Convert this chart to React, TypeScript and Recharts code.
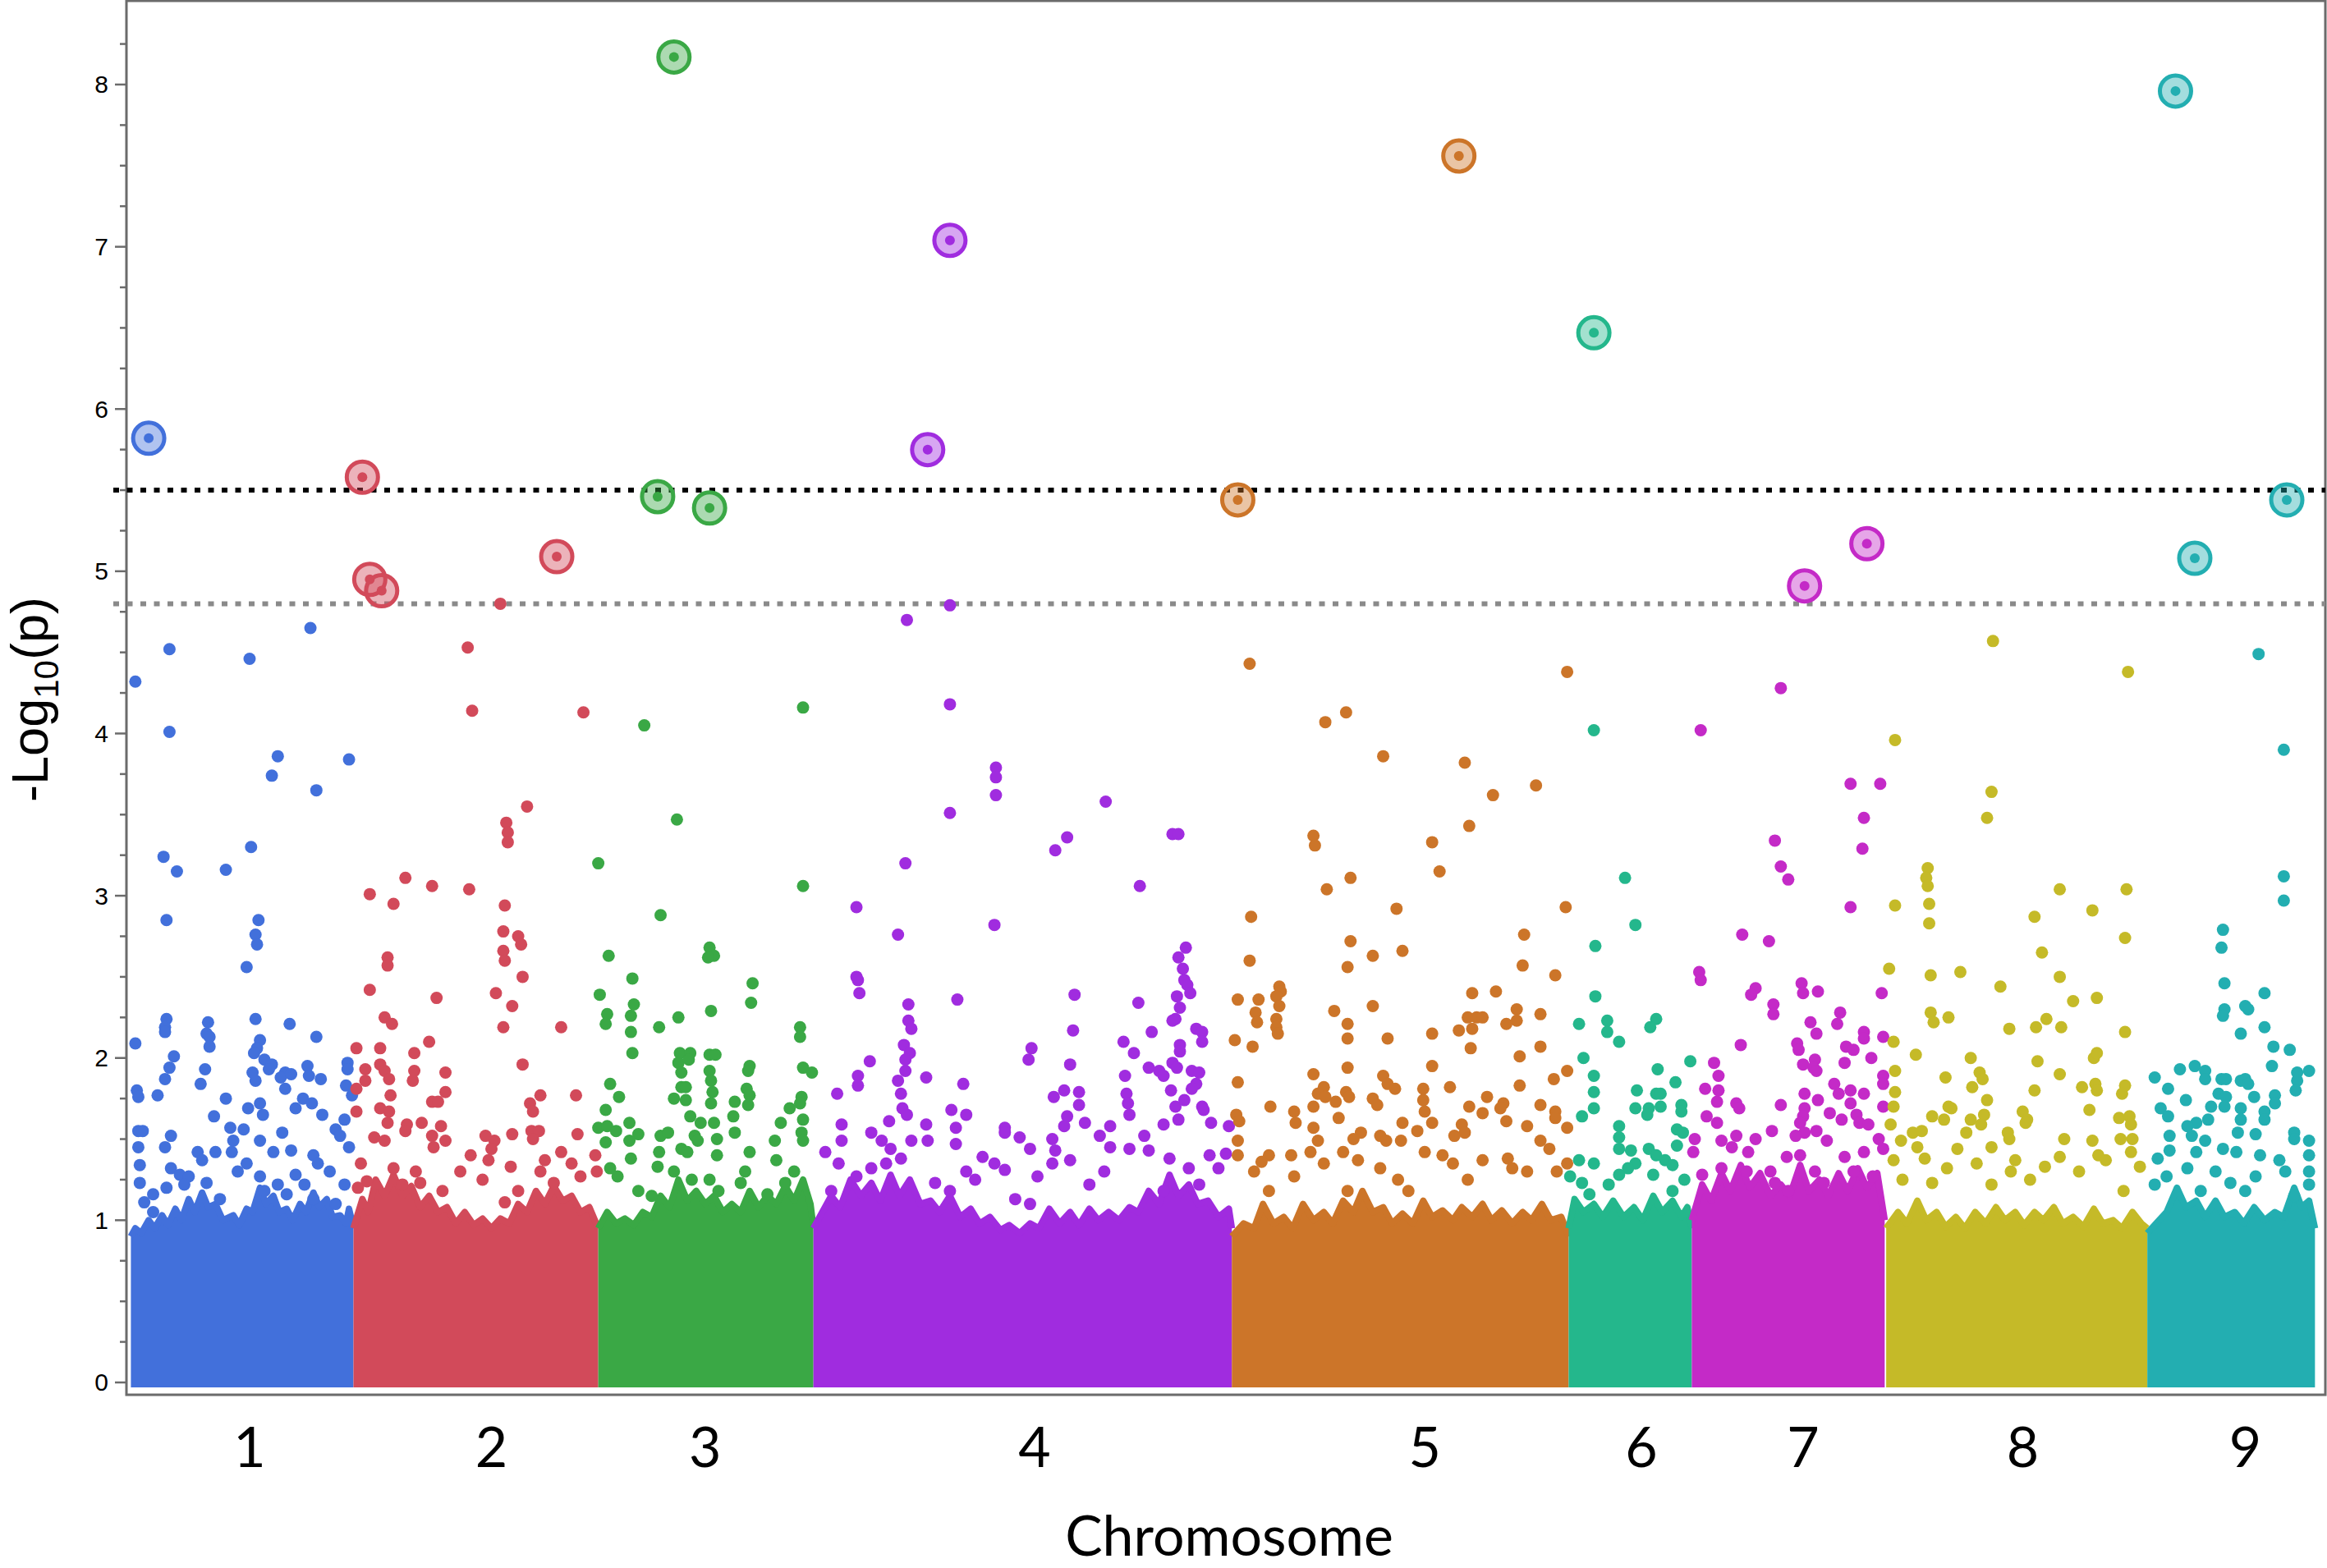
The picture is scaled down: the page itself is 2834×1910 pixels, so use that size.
import { ComposedChart, Area, Scatter, XAxis, YAxis, ReferenceLine, ReferenceArea, Label } from 'recharts';

// chromosome names, colours and where their labels sit on the genome axis
const chromosomes = ['1', '2', '3', '4', '5', '6', '7', '8', '9'];
const chromColors = ['#4270db', '#d24a5a', '#3aa845', '#a02cdf', '#cc7529', '#24b78c', '#c42ac7', '#c5ba28', '#23aeb1'];
const chromLabelPos = [83, 246, 390, 612, 875, 1021, 1130, 1278, 1428];

const yTicks = [0, 0.25, 0.5, 0.75, 1, 1.25, 1.5, 1.75, 2, 2.25, 2.5, 2.75, 3, 3.25, 3.5, 3.75, 4, 4.25, 4.5, 4.75, 5, 5.25, 5.5, 5.75, 6, 6.25, 6.5, 6.75, 7, 7.25, 7.5, 7.75, 8, 8.25];

const genomeWide = 5.5;
const suggestive = 4.8;

// upper edge of the dense band of SNPs, per chromosome [position, -log10 p]
const chr1Band = [[3, 0.9], [6, 0.95], [10, 0.92], [15, 1.0], [19, 0.95], [24, 1.03], [28, 0.97], [33, 1.07], [37, 1.0], [42, 1.13], [46, 1.05], [51, 1.17], [55, 1.08], [60, 1.1], [65, 1.0], [72, 1.03], [76, 0.97], [81, 1.07], [85, 1.05], [90, 1.2], [94, 1.1], [99, 1.15], [103, 1.05], [108, 1.07], [112, 1.0], [117, 1.1], [121, 1.05], [126, 1.17], [130, 1.08], [135, 1.13], [139, 1.02], [144, 1.03], [148, 0.98], [150, 1.07], [153, 0.95]];
const chr2Band = [[153, 0.95], [159, 1.13], [163, 1.05], [168, 1.25], [174, 1.15], [180, 1.28], [186, 1.15], [192, 1.21], [198, 1.08], [204, 1.15], [210, 1.05], [216, 1.08], [222, 0.98], [228, 1.05], [234, 0.97], [240, 1.01], [246, 0.95], [252, 1.01], [258, 0.98], [264, 1.1], [270, 1.05], [276, 1.18], [282, 1.1], [288, 1.21], [294, 1.12], [300, 1.15], [306, 1.05], [312, 1.08], [318, 0.95]];
const chr3Band = [[318, 0.95], [324, 1.05], [330, 0.98], [336, 1.01], [342, 0.97], [348, 1.05], [354, 1.02], [360, 1.15], [366, 1.08], [372, 1.25], [378, 1.12], [384, 1.18], [390, 1.1], [396, 1.15], [402, 1.05], [408, 1.1], [414, 1.05], [420, 1.18], [426, 1.08], [432, 1.15], [438, 1.1], [444, 1.21], [450, 1.12], [456, 1.25], [461, 1.1], [463, 0.95]];
const chr4Band = [[463, 0.95], [469, 1.05], [475, 1.15], [481, 1.08], [488, 1.25], [495, 1.15], [502, 1.23], [508, 1.12], [515, 1.28], [521, 1.15], [528, 1.25], [535, 1.1], [542, 1.12], [548, 1.05], [555, 1.15], [562, 1.02], [569, 1.07], [575, 0.98], [582, 1.02], [589, 0.94], [595, 0.97], [602, 0.92], [609, 0.98], [615, 0.95], [622, 1.07], [629, 0.98], [636, 1.05], [642, 0.97], [649, 1.07], [655, 1.0], [662, 1.05], [669, 1.0], [676, 1.08], [682, 1.05], [689, 1.18], [696, 1.1], [703, 1.28], [709, 1.15], [716, 1.22], [722, 1.1], [729, 1.12], [736, 1.02], [743, 1.07], [745, 0.95]];
const chr5Band = [[745, 0.9], [753, 0.98], [760, 0.95], [766, 1.1], [773, 0.98], [780, 1.02], [786, 0.95], [793, 1.1], [800, 1.0], [807, 1.05], [813, 0.98], [820, 1.12], [827, 1.05], [833, 1.18], [840, 1.05], [847, 1.08], [853, 0.98], [860, 1.04], [867, 0.98], [874, 1.12], [880, 1.02], [887, 1.06], [894, 1.0], [900, 1.08], [907, 1.02], [914, 1.1], [920, 1.0], [927, 1.06], [934, 0.98], [941, 1.05], [947, 1.0], [954, 1.1], [960, 1.0], [967, 1.02], [972, 0.9]];
const chr6Band = [[972, 0.95], [976, 1.13], [982, 1.05], [989, 1.1], [995, 1.02], [1002, 1.12], [1009, 1.02], [1016, 1.08], [1022, 1.0], [1029, 1.15], [1035, 1.05], [1042, 1.12], [1048, 1.02], [1052, 1.08], [1055, 0.95]];
const chr7Band = [[1055, 1.0], [1062, 1.22], [1068, 1.12], [1075, 1.29], [1081, 1.18], [1088, 1.34], [1094, 1.2], [1101, 1.29], [1108, 1.15], [1115, 1.22], [1121, 1.15], [1128, 1.34], [1134, 1.18], [1141, 1.25], [1147, 1.15], [1154, 1.29], [1160, 1.18], [1167, 1.32], [1173, 1.2], [1180, 1.29], [1185, 1.0]];
const chr8Band = [[1186, 0.95], [1194, 1.05], [1200, 0.98], [1207, 1.12], [1213, 1.0], [1220, 1.05], [1226, 0.96], [1233, 1.02], [1239, 0.95], [1246, 1.05], [1253, 0.98], [1260, 1.08], [1266, 1.0], [1273, 1.05], [1279, 0.97], [1286, 1.05], [1292, 1.0], [1299, 1.08], [1305, 0.98], [1312, 1.02], [1319, 0.96], [1326, 1.07], [1332, 0.98], [1339, 1.0], [1345, 0.95], [1352, 1.05], [1358, 0.98], [1362, 0.95]];
const chr9Band = [[1362, 0.92], [1368, 0.98], [1375, 1.05], [1382, 1.2], [1388, 1.08], [1395, 1.12], [1401, 1.02], [1408, 1.12], [1414, 1.02], [1421, 1.05], [1427, 0.98], [1434, 1.08], [1441, 1.0], [1448, 1.05], [1454, 1.02], [1461, 1.2], [1466, 1.08], [1471, 1.12], [1475, 0.95]];

// individual SNPs above the band
const chr1Snps = [[6, 2.09], [27, 2.24], [26, 2.19], [26, 2.16], [55, 2.22], [54, 2.15], [56, 2.13], [56, 2.07], [87, 2.24], [110, 2.21], [128, 2.13], [90, 2.11], [88, 2.06], [86, 2.03], [32, 2.01], [29, 1.94], [26, 1.87], [53, 1.93], [50, 1.84], [7, 1.8], [8, 1.76], [21, 1.77], [67, 1.75], [59, 1.64], [8, 1.55], [11, 1.55], [30, 1.52], [26, 1.45], [8, 1.45], [9, 1.34], [9, 1.23], [70, 1.57], [79, 1.56], [107, 1.91], [104, 1.88], [111, 1.9], [93, 1.99], [98, 1.96], [96, 1.93], [85, 1.91], [87, 1.86], [122, 1.95], [123, 1.89], [131, 1.87], [149, 1.97], [149, 1.93], [148, 1.83], [152, 1.77], [82, 1.69], [90, 1.72], [92, 1.65], [114, 1.69], [119, 1.75], [125, 1.72], [132, 1.65], [141, 1.56], [147, 1.62], [107, 1.81], [105, 1.54], [90, 1.49], [72, 1.49], [71, 1.42], [48, 1.42], [51, 1.37], [60, 1.42], [30, 1.32], [36, 1.28], [42, 1.27], [54, 1.23], [39, 1.22], [18, 1.16], [27, 1.2], [12, 1.11], [75, 1.3], [81, 1.35], [99, 1.42], [111, 1.43], [126, 1.4], [129, 1.35], [150, 1.45], [144, 1.52], [137, 1.3], [147, 1.22], [114, 1.28], [120, 1.22], [90, 1.27], [93, 1.18], [102, 1.22], [108, 1.16], [18, 1.05], [63, 1.13], [126, 1.13], [141, 1.1],
  [6, 4.32], [29, 4.52], [29, 4.01], [25, 3.24], [34, 3.15], [27, 2.85], [83, 4.46], [102, 3.86], [98, 3.74], [67, 3.16], [84, 3.3], [89, 2.85], [87, 2.76], [88, 2.7], [81, 2.56], [124, 4.65], [128, 3.65], [150, 3.84]];
const chr2Snps = [[176, 2.62], [176, 2.57], [164, 2.42], [209, 2.37], [254, 2.66], [255, 2.6], [267, 2.5], [249, 2.4], [260, 2.32], [254, 2.19], [293, 2.19], [267, 1.96], [174, 2.25], [179, 2.21], [204, 2.1], [194, 2.03], [155, 2.06], [171, 2.06], [161, 1.93], [161, 1.86], [171, 1.96], [174, 1.92], [177, 1.87], [194, 1.92], [193, 1.86], [215, 1.91], [155, 1.81], [178, 1.77], [215, 1.79], [206, 1.73], [210, 1.73], [279, 1.77], [303, 1.77], [272, 1.72], [274, 1.67], [155, 1.67], [171, 1.69], [177, 1.67], [176, 1.6], [189, 1.59], [188, 1.55], [199, 1.6], [212, 1.58], [167, 1.51], [174, 1.49], [206, 1.52], [207, 1.45], [215, 1.49], [242, 1.52], [248, 1.49], [246, 1.44], [260, 1.53], [273, 1.55], [278, 1.55], [274, 1.5], [304, 1.53], [232, 1.4], [244, 1.37], [259, 1.33], [282, 1.37], [293, 1.42], [316, 1.4], [317, 1.3], [158, 1.35], [162, 1.24], [156, 1.2], [180, 1.32], [186, 1.22], [195, 1.3], [198, 1.23], [225, 1.3], [240, 1.25], [279, 1.3], [288, 1.23], [300, 1.35], [306, 1.27], [213, 1.18], [255, 1.11], [264, 1.18],
  [230, 4.53], [233, 4.14], [252, 4.8], [256, 3.45], [257, 3.39], [257, 3.33], [270, 3.55], [308, 4.13], [188, 3.11], [206, 3.06], [164, 3.01], [180, 2.95], [231, 3.04], [255, 2.94], [254, 2.78], [264, 2.75], [266, 2.7]];
const chr3Snps = [[325, 2.63], [393, 2.68], [396, 2.63], [392, 2.62], [341, 2.49], [422, 2.46], [421, 2.34], [319, 2.39], [342, 2.33], [340, 2.26], [340, 2.16], [324, 2.27], [323, 2.21], [359, 2.19], [372, 2.25], [394, 2.29], [454, 2.19], [454, 2.13], [341, 2.03], [373, 2.03], [380, 2.03], [372, 1.97], [379, 1.99], [393, 2.02], [397, 2.02], [420, 1.95], [419, 1.92], [456, 1.94], [462, 1.91], [326, 1.84], [332, 1.76], [323, 1.68], [374, 1.91], [374, 1.82], [377, 1.82], [393, 1.92], [394, 1.86], [395, 1.79], [394, 1.72], [369, 1.75], [377, 1.74], [418, 1.81], [420, 1.77], [419, 1.71], [410, 1.73], [455, 1.76], [454, 1.72], [447, 1.69], [318, 1.57], [324, 1.58], [330, 1.55], [339, 1.6], [345, 1.53], [323, 1.48], [339, 1.49], [340, 1.38], [380, 1.64], [387, 1.6], [396, 1.6], [383, 1.52], [385, 1.49], [409, 1.64], [410, 1.54], [398, 1.5], [398, 1.4], [420, 1.42], [441, 1.6], [456, 1.62], [455, 1.54], [456, 1.49], [437, 1.49], [438, 1.37], [360, 1.52], [359, 1.42], [358, 1.33], [365, 1.54], [374, 1.44], [378, 1.42], [326, 1.32], [331, 1.27], [417, 1.3], [414, 1.23], [450, 1.3], [444, 1.23], [369, 1.3], [381, 1.25], [345, 1.18], [354, 1.15], [393, 1.25], [399, 1.18], [432, 1.16],
  [349, 4.05], [371, 3.47], [456, 4.16], [318, 3.2], [360, 2.88], [456, 3.06]];
const chr4Snps = [[492, 2.5], [493, 2.48], [494, 2.4], [527, 2.33], [527, 2.23], [529, 2.18], [560, 2.36], [639, 2.39], [682, 2.34], [714, 2.68], [709, 2.62], [712, 2.55], [713, 2.48], [715, 2.45], [717, 2.4], [708, 2.38], [710, 2.31], [707, 2.24], [705, 2.23], [721, 2.18], [725, 2.16], [725, 2.1], [638, 2.17], [691, 2.16], [710, 2.08], [710, 2.04], [672, 2.1], [679, 2.03], [524, 2.08], [528, 2.03], [525, 1.99], [501, 1.98], [610, 2.06], [608, 1.99], [636, 1.96], [689, 1.94], [696, 1.92], [699, 1.89], [705, 1.97], [708, 1.94], [718, 1.92], [723, 1.91], [721, 1.84], [718, 1.81], [525, 1.92], [520, 1.86], [522, 1.78], [493, 1.89], [493, 1.83], [539, 1.88], [564, 1.84], [479, 1.78], [673, 1.89], [674, 1.78], [675, 1.72], [676, 1.65], [704, 1.8], [707, 1.7], [713, 1.74], [725, 1.7], [726, 1.68], [632, 1.8], [642, 1.79], [642, 1.71], [625, 1.76], [523, 1.69], [526, 1.65], [556, 1.68], [566, 1.65], [634, 1.64], [646, 1.6], [632, 1.58], [663, 1.58], [656, 1.52], [686, 1.52], [699, 1.59], [709, 1.62], [731, 1.6], [743, 1.58], [514, 1.61], [539, 1.59], [482, 1.59], [482, 1.49], [502, 1.54], [559, 1.57], [559, 1.47], [592, 1.57], [592, 1.54], [602, 1.51], [624, 1.5], [626, 1.43], [509, 1.49], [515, 1.44], [529, 1.49], [540, 1.49], [609, 1.44], [663, 1.45], [676, 1.44], [471, 1.42], [480, 1.35], [577, 1.39], [585, 1.35], [592, 1.31], [624, 1.35], [636, 1.37], [659, 1.3], [689, 1.43], [703, 1.38], [716, 1.32], [730, 1.4], [741, 1.41], [614, 1.27], [512, 1.35], [522, 1.38], [566, 1.3], [572, 1.25], [736, 1.32], [502, 1.32], [492, 1.27], [545, 1.23], [555, 1.18], [599, 1.13], [609, 1.1], [649, 1.22], [699, 1.18], [723, 1.22], [475, 1.18],
  [526, 4.7], [555, 4.79], [555, 4.18], [586, 3.79], [586, 3.73], [586, 3.62], [555, 3.51], [525, 3.2], [492, 2.93], [520, 2.76], [585, 2.82], [626, 3.28], [634, 3.36], [660, 3.58], [683, 3.06], [705, 3.38], [709, 3.38]];
const chr5Snps = [[757, 2.6], [823, 2.56], [840, 2.63], [860, 2.66], [941, 2.57], [963, 2.51], [749, 2.36], [763, 2.36], [777, 2.44], [778, 2.41], [775, 2.38], [777, 2.32], [775, 2.24], [775, 2.19], [776, 2.15], [761, 2.28], [762, 2.22], [747, 2.11], [759, 2.07], [814, 2.29], [840, 2.32], [823, 2.21], [823, 2.12], [850, 2.12], [880, 2.15], [907, 2.4], [923, 2.41], [904, 2.25], [910, 2.25], [914, 2.25], [898, 2.17], [907, 2.18], [937, 2.3], [937, 2.23], [930, 2.21], [953, 2.27], [906, 2.06], [953, 2.07], [939, 2.01], [823, 1.94], [880, 1.95], [971, 1.92], [962, 1.87], [749, 1.85], [800, 1.9], [847, 1.89], [850, 1.84], [855, 1.81], [807, 1.82], [803, 1.78], [808, 1.76], [822, 1.79], [824, 1.76], [815, 1.73], [840, 1.75], [843, 1.71], [874, 1.81], [874, 1.74], [875, 1.67], [892, 1.82], [939, 1.83], [917, 1.76], [905, 1.7], [914, 1.66], [928, 1.72], [926, 1.69], [953, 1.71], [771, 1.7], [800, 1.7], [787, 1.67], [788, 1.6], [817, 1.63], [963, 1.67], [963, 1.63], [748, 1.65], [750, 1.61], [860, 1.6], [870, 1.55], [880, 1.6], [900, 1.59], [902, 1.54], [895, 1.52], [930, 1.61], [944, 1.58], [971, 1.57], [800, 1.57], [832, 1.54], [827, 1.5], [845, 1.52], [849, 1.49], [803, 1.49], [859, 1.49], [953, 1.49], [959, 1.44], [749, 1.49], [749, 1.4], [770, 1.4], [765, 1.36], [760, 1.3], [785, 1.4], [798, 1.42], [807, 1.35], [820, 1.42], [830, 1.37], [875, 1.42], [887, 1.4], [894, 1.35], [914, 1.37], [931, 1.38], [934, 1.32], [944, 1.3], [964, 1.3], [971, 1.35], [787, 1.27], [845, 1.32], [857, 1.25], [904, 1.25], [864, 1.18], [823, 1.18], [770, 1.18],
  [757, 4.43], [808, 4.07], [822, 4.13], [847, 3.86], [902, 3.82], [905, 3.43], [921, 3.62], [950, 3.68], [880, 3.33], [885, 3.15], [800, 3.37], [801, 3.31], [809, 3.04], [825, 3.11], [758, 2.87], [856, 2.92], [825, 2.72], [942, 2.76], [971, 4.38], [970, 2.93]];
const chr6Snps = [[990, 2.69], [990, 2.38], [979, 2.21], [998, 2.23], [998, 2.16], [1006, 2.1], [1031, 2.24], [1027, 2.19], [982, 2.0], [989, 1.89], [989, 1.79], [989, 1.69], [981, 1.64], [1032, 1.93], [1054, 1.98], [1044, 1.85], [1018, 1.8], [1017, 1.69], [1031, 1.78], [1034, 1.78], [1034, 1.7], [1026, 1.69], [1025, 1.65], [1048, 1.71], [1048, 1.67], [1006, 1.58], [1006, 1.51], [1045, 1.56], [1049, 1.54], [1045, 1.46], [1006, 1.44], [1014, 1.43], [1026, 1.44], [1031, 1.4], [1037, 1.37], [1042, 1.34], [979, 1.37], [989, 1.35], [1017, 1.35], [1012, 1.32], [1006, 1.28], [973, 1.27], [981, 1.23], [1029, 1.28], [1050, 1.25], [999, 1.22], [1042, 1.18], [986, 1.16],
  [989, 4.02], [1010, 3.11], [1017, 2.82]];
const chr7Snps = [[1060, 2.53], [1061, 2.48], [1098, 2.43], [1095, 2.39], [1129, 2.46], [1130, 2.4], [1140, 2.41], [1183, 2.4], [1110, 2.33], [1110, 2.27], [1155, 2.28], [1153, 2.21], [1135, 2.22], [1139, 2.15], [1171, 2.16], [1171, 2.12], [1184, 2.13], [1088, 2.08], [1126, 2.09], [1127, 2.05], [1159, 2.07], [1164, 2.05], [1138, 1.99], [1130, 1.96], [1137, 1.94], [1158, 1.97], [1176, 2.0], [1070, 1.97], [1073, 1.89], [1139, 1.92], [1184, 1.89], [1184, 1.84], [1184, 1.7], [1064, 1.81], [1073, 1.8], [1151, 1.84], [1154, 1.78], [1131, 1.78], [1140, 1.74], [1162, 1.8], [1171, 1.78], [1162, 1.72], [1115, 1.71], [1085, 1.72], [1087, 1.69], [1072, 1.73], [1065, 1.64], [1072, 1.6], [1131, 1.69], [1130, 1.64], [1128, 1.6], [1148, 1.66], [1156, 1.62], [1166, 1.65], [1168, 1.6], [1174, 1.59], [1109, 1.55], [1131, 1.54], [1125, 1.52], [1139, 1.55], [1146, 1.49], [1181, 1.5], [1057, 1.5], [1056, 1.42], [1098, 1.5], [1075, 1.49], [1085, 1.52], [1082, 1.45], [1093, 1.42], [1119, 1.39], [1128, 1.4], [1158, 1.39], [1171, 1.42], [1184, 1.44], [1062, 1.28], [1075, 1.32], [1092, 1.3], [1108, 1.3], [1111, 1.23], [1138, 1.3], [1144, 1.23], [1164, 1.3], [1177, 1.27], [1120, 1.18],
  [1061, 4.02], [1115, 4.28], [1162, 3.69], [1182, 3.69], [1171, 3.48], [1170, 3.29], [1111, 3.34], [1115, 3.18], [1120, 3.1], [1162, 2.93], [1089, 2.76], [1107, 2.72]];
const chr8Snps = [[1188, 2.55], [1291, 2.65], [1216, 2.51], [1236, 2.53], [1303, 2.5], [1263, 2.44], [1312, 2.35], [1328, 2.37], [1216, 2.28], [1218, 2.22], [1228, 2.25], [1294, 2.24], [1287, 2.19], [1304, 2.19], [1269, 2.18], [1347, 2.16], [1191, 2.1], [1206, 2.02], [1243, 2.0], [1288, 1.98], [1326, 2.0], [1328, 2.03], [1192, 1.92], [1226, 1.88], [1249, 1.91], [1251, 1.87], [1303, 1.9], [1192, 1.79], [1191, 1.7], [1244, 1.82], [1286, 1.8], [1318, 1.82], [1327, 1.84], [1328, 1.8], [1347, 1.83], [1345, 1.78], [1254, 1.74], [1228, 1.7], [1230, 1.69], [1217, 1.64], [1323, 1.68], [1243, 1.62], [1252, 1.65], [1250, 1.59], [1278, 1.67], [1281, 1.62], [1280, 1.6], [1343, 1.63], [1350, 1.64], [1351, 1.59], [1204, 1.54], [1210, 1.55], [1196, 1.49], [1225, 1.62], [1240, 1.54], [1268, 1.54], [1269, 1.5], [1306, 1.5], [1325, 1.49], [1344, 1.5], [1352, 1.5], [1189, 1.59], [1207, 1.45], [1212, 1.38], [1234, 1.44], [1257, 1.45], [1303, 1.39], [1329, 1.4], [1334, 1.37], [1351, 1.42], [1357, 1.33], [1191, 1.37], [1227, 1.32], [1247, 1.35], [1273, 1.37], [1270, 1.3], [1293, 1.33], [1316, 1.3], [1197, 1.25], [1217, 1.23], [1257, 1.22], [1283, 1.25], [1346, 1.18],
  [1192, 3.96], [1258, 4.57], [1349, 4.38], [1257, 3.64], [1254, 3.48], [1214, 3.17], [1213, 3.11], [1214, 3.06], [1303, 3.04], [1215, 2.95], [1215, 2.83], [1192, 2.94], [1325, 2.91], [1348, 3.04], [1347, 2.74], [1286, 2.87]];
const chr9Snps = [[1412, 2.68], [1414, 2.46], [1441, 2.4], [1414, 2.3], [1413, 2.26], [1428, 2.32], [1430, 2.3], [1425, 2.15], [1441, 2.19], [1447, 2.07], [1458, 2.05], [1446, 1.95], [1367, 1.88], [1384, 1.93], [1394, 1.95], [1401, 1.92], [1401, 1.87], [1412, 1.87], [1415, 1.87], [1425, 1.86], [1428, 1.87], [1430, 1.84], [1463, 1.91], [1471, 1.92], [1463, 1.86], [1462, 1.8], [1376, 1.81], [1388, 1.74], [1410, 1.78], [1415, 1.76], [1414, 1.7], [1434, 1.76], [1448, 1.77], [1448, 1.72], [1371, 1.69], [1376, 1.64], [1405, 1.7], [1403, 1.62], [1425, 1.69], [1425, 1.62], [1441, 1.67], [1441, 1.62], [1395, 1.6], [1423, 1.54], [1435, 1.53], [1377, 1.52], [1377, 1.43], [1389, 1.58], [1392, 1.52], [1401, 1.49], [1461, 1.54], [1461, 1.5], [1471, 1.49], [1471, 1.4], [1413, 1.44], [1422, 1.42], [1395, 1.42], [1438, 1.4], [1451, 1.37], [1455, 1.3], [1369, 1.38], [1375, 1.27], [1367, 1.22], [1389, 1.32], [1408, 1.3], [1418, 1.23], [1435, 1.27], [1428, 1.18], [1471, 1.3], [1471, 1.22], [1398, 1.18], [1461, 1.15],
  [1437, 4.49], [1454, 3.9], [1454, 3.12], [1454, 2.97], [1413, 2.79]];

// circled lead SNPs: [position, -log10 p, chromosome index]
const leadSnps = [[15, 5.82, 0], [159, 5.58, 1], [164, 4.95, 1], [172, 4.88, 1], [290, 5.09, 1], [358, 5.46, 2], [369, 8.17, 2], [393, 5.39, 2], [540, 5.75, 3], [555, 7.04, 3], [749, 5.44, 4], [898, 7.56, 4], [989, 6.47, 5], [1131, 4.91, 6], [1173, 5.17, 6], [1381, 7.96, 8], [1394, 5.08, 8], [1456, 5.44, 8]];

const bands = [chr1Band, chr2Band, chr3Band, chr4Band, chr5Band, chr6Band, chr7Band, chr8Band, chr9Band];
const snps = [chr1Snps, chr2Snps, chr3Snps, chr4Snps, chr5Snps, chr6Snps, chr7Snps, chr8Snps, chr9Snps];

const bandRows = bands.flatMap((band, i) => band.map(([x, top]) => ({ x, [`c${i}`]: top })));
const leadRows = leadSnps.map(([x, y, chr]) => ({ x, y, chr }));

const X_MAX = 1482;
const Y_MIN = -0.076;
const Y_MAX = 8.516;

const axisGrey = '#6b6b6b';
const sans = '"Liberation Sans", Arial, sans-serif';

const YTick = (props: any) => {
  const { x, y, payload } = props;
  const major = Number.isInteger(payload.value);
  return (
    <g>
      <line x1={x - (major ? 14 : 8)} x2={x} y1={y} y2={y} stroke={axisGrey} strokeWidth={2.5} />
      {major && (
        <text x={x - 22} y={y} dy={10.5} textAnchor="end" fontSize={30} fontFamily={sans} fill="#000">
          {payload.value}
        </text>
      )}
    </g>
  );
};

const XTick = (props: any) => {
  const { x, y, payload } = props;
  const idx = chromLabelPos.indexOf(payload.value);
  return (
    <text x={x} y={y + 88} textAnchor="middle" fontSize={68} fontFamily="Lato, sans-serif" fill="#000">
      {chromosomes[idx]}
    </text>
  );
};

const dotShape = (color: string) => (props: any) => <circle cx={props.cx} cy={props.cy} r={7.5} fill={color} />;

const LeadDot = (props: any) => {
  const { cx, cy, payload } = props;
  const c = chromColors[payload.chr];
  return (
    <g>
      <circle cx={cx} cy={cy} r={19} fill={c} fillOpacity={0.42} stroke={c} strokeWidth={5} />
      <circle cx={cx} cy={cy} r={6} fill={c} />
    </g>
  );
};

const dottedLine = (color: string) => (props: any) => (
  <line x1={props.x1 - 16} x2={props.x2} y1={props.y1} y2={props.y2} stroke={color} strokeWidth={6} strokeDasharray="7 9.5" />
);

const App = () => {
  return (
    <div style={{ position: 'absolute', left: 0, top: 0, width: 2834, height: 1910, background: '#fff' }}>
      <ComposedChart width={2834} height={1910} data={bandRows} margin={{ top: 1, right: 2, bottom: 0, left: 0 }}>
        <XAxis
          type="number"
          dataKey="x"
          domain={[0, X_MAX]}
          ticks={chromLabelPos}
          interval={0}
          tick={(p: any) => <XTick {...p} />}
          tickLine={false}
          axisLine={false}
          tickSize={0}
          tickMargin={0}
          height={211}
          allowDataOverflow
        >
          <Label
            content={(p: any) => (
              <text
                x={p.viewBox.x + p.viewBox.width / 2 + 4}
                y={p.viewBox.y + 196}
                textAnchor="middle"
                fontSize={68}
                fontFamily="Lato, sans-serif"
                fill="#000"
              >
                Chromosome
              </text>
            )}
          />
        </XAxis>
        <YAxis
          type="number"
          dataKey="y"
          domain={[Y_MIN, Y_MAX]}
          ticks={yTicks}
          interval={0}
          tick={(p: any) => <YTick {...p} />}
          tickLine={false}
          axisLine={false}
          tickSize={0}
          tickMargin={0}
          width={154}
          allowDataOverflow
        >
          <Label
            content={(p: any) => {
              const cx = p.viewBox.x + 58;
              const cy = p.viewBox.y + p.viewBox.height / 2 + 2;
              return (
                <text transform={`translate(${cx}, ${cy}) rotate(-90)`} textAnchor="middle" fontSize={63} fontFamily={sans} fill="#000">
                  -Log<tspan fontSize={42} dy={13}>10</tspan>
                  <tspan dy={-13}>(p)</tspan>
                </text>
              );
            }}
          />
        </YAxis>

        {chromColors.map((c, i) => (
          <Area
            key={`band-${i}`}
            type="linear"
            dataKey={`c${i}`}
            baseValue={-0.03}
            fill={c}
            fillOpacity={1}
            stroke={c}
            strokeWidth={8}
            strokeLinejoin="round"
            dot={false}
            activeDot={false}
            isAnimationActive={false}
          />
        ))}

        {chromColors.map((c, i) => (
          <Scatter
            key={`snp-${i}`}
            data={snps[i].map(([x, y]) => ({ x, y }))}
            shape={dotShape(c)}
            isAnimationActive={false}
          />
        ))}

        <ReferenceLine y={suggestive} shape={dottedLine('#8a8a8a')} ifOverflow="visible" />
        <ReferenceLine y={genomeWide} shape={dottedLine('#000')} ifOverflow="visible" />

        <Scatter data={leadRows} shape={LeadDot} isAnimationActive={false} />

        <ReferenceArea
          x1={0}
          x2={X_MAX}
          y1={Y_MIN}
          y2={Y_MAX}
          fill="none"
          fillOpacity={0}
          stroke={axisGrey}
          strokeWidth={3}
          ifOverflow="visible"
        />
      </ComposedChart>
    </div>
  );
};

export default App;
